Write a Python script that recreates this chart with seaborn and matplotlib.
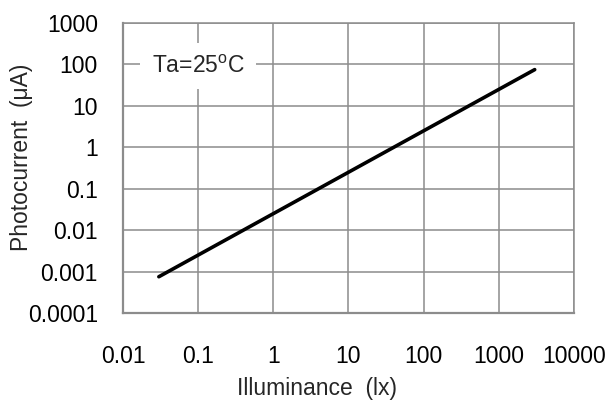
# Photocurrent vs illuminance (log-log)
import pandas as pd
import numpy as np
import matplotlib.pyplot as plt
import seaborn as sns

# data
illuminance = [0.03, 3000]
photocurrent = [0.00075, 75]

x_ticks = [0.01, 0.1, 1, 10, 100, 1000, 10000]
x_labels = ["0.01", "0.1", "1", "10", "100", "1000", "10000"]
y_ticks = [0.0001, 0.001, 0.01, 0.1, 1, 10, 100, 1000]
y_labels = ["0.0001", "0.001", "0.01", "0.1", "1", "10", "100", "1000"]

df = pd.DataFrame({"Illuminance": illuminance, "Photocurrent": photocurrent})

sns.set_style("white")
plt.rcParams["font.family"] = ["Liberation Sans", "DejaVu Sans"]

grid_col = "#8c8c8c"
fs = 16.5

fig = plt.figure(figsize=(6.1, 4.01), dpi=100)
ax = fig.add_axes([0.2016, 0.2195, 0.7394, 0.7231])

sns.lineplot(data=df, x="Illuminance", y="Photocurrent", color="black",
             linewidth=2.6, solid_capstyle="round", ax=ax, zorder=3)

ax.set_xscale("log")
ax.set_yscale("log")
ax.set_xlim(0.01, 10000)
ax.set_ylim(0.0001, 1000)
ax.set_xticks(x_ticks)
ax.set_xticklabels(x_labels)
ax.set_yticks(y_ticks)
ax.set_yticklabels(y_labels)
ax.minorticks_off()

ax.grid(True, color=grid_col, linewidth=1.1)
for s in ax.spines.values():
    s.set_color(grid_col)
    s.set_linewidth(1.1)
ax.spines["left"].set_linewidth(1.6)
ax.spines["bottom"].set_linewidth(1.6)

ax.tick_params(axis="both", direction="out", length=5, width=1.3,
               color=grid_col, labelsize=fs, labelcolor="black")
ax.tick_params(axis="y", pad=13)
ax.tick_params(axis="x", pad=18)

ax.set_xlabel("Illuminance  (lx)", fontsize=fs)
ax.set_ylabel("Photocurrent  (\u03bcA)", fontsize=fs)
ax.xaxis.set_label_coords(0.43, -0.222)
ax.yaxis.set_label_coords(-0.2, 0.538)

ax.text(0.1, 90, "Ta=25$^\\mathregular{o}$C", fontsize=fs, ha="center", va="center",
        bbox=dict(boxstyle="square,pad=0.5", facecolor="white", edgecolor="none"),
        zorder=4)

plt.savefig("out.png", dpi=100)
